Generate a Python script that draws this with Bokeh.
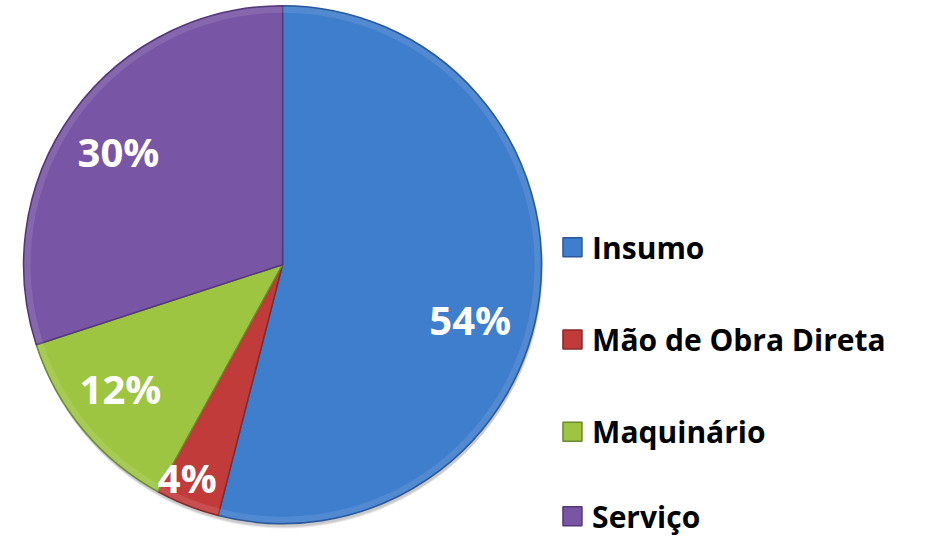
import numpy as np
from bokeh.plotting import figure
from bokeh.models import Range1d, ColumnDataSource
from bokeh.core.properties import value
from bokeh.embed import file_html
from bokeh.resources import INLINE

categories = ["Insumo", "Mão de Obra Direta", "Maquinário", "Serviço"]
values = [54, 4, 12, 30]
labels = ["54%", "4%", "12%", "30%"]
colors = ["#3F7DCD", "#C13B3B", "#9DC542", "#7956A5"]
edge_colors = ["#2A5899", "#8A2828", "#6A8C2A", "#533878"]

W, H = 912, 540
KX, KY = W / 928, H / 556
p = figure(width=W, height=H, x_range=Range1d(0, W), y_range=Range1d(0, H),
           output_backend="svg", toolbar_location=None, min_border=0,
           outline_line_color=None, background_fill_color="white",
           border_fill_color="white")
p.axis.visible = False
p.grid.visible = False

def sx(x):
    return x * KX

def sy(y):
    return H - y * KY

cx, cy, R = sx(287), sy(272), 259

frac = np.array(values, dtype=float) / sum(values)
cum = np.concatenate([[0], np.cumsum(frac)])
start = np.pi / 2 - cum[1:] * 2 * np.pi
end = np.pi / 2 - cum[:-1] * 2 * np.pi

# soft shadow
for i in range(5):
    p.circle(x=[cx + 1], y=[cy - 2 - i], radius=R + 1 - 0.5 * i,
             fill_color="#000000", fill_alpha=0.045, line_color=None)

src = ColumnDataSource(dict(start=start, end=end, color=colors, edge=edge_colors))
p.wedge(x=cx, y=cy, radius=R, start_angle="start", end_angle="end",
        fill_color="color", line_color="edge", line_width=1.5, source=src)
# bevel highlight rim
p.annular_wedge(x=cx, y=cy, inner_radius=R - 7, outer_radius=R - 1,
                start_angle="start", end_angle="end", fill_color="white",
                fill_alpha=0.10, line_color=None, source=src)

# percentage labels (screen positions)
lab_x = [sx(478), sx(190), sx(122), sx(120)]
lab_y = [sy(328), sy(491), sy(400), sy(155)]
p.text(x=lab_x, y=lab_y, text=labels, text_color="white",
       text_font=value("Open Sans"), text_font_style="bold",
       text_font_size="40px", text_align="center", text_baseline="middle")

# legend
leg_y = [sy(254), sy(349), sy(444), sy(531)]
leg_sq_x = [sx(582)] * 4
p.rect(x=leg_sq_x, y=leg_y, width=19, height=19, fill_color=colors,
       line_color=edge_colors, line_width=1.5)
p.text(x=[sx(602)] * 4, y=leg_y, text=categories, text_color="black",
       text_font=value("Open Sans"), text_font_style="bold",
       text_font_size="30px", text_align="left", text_baseline="middle")

open("out.html", "w").write(file_html(p, INLINE))
